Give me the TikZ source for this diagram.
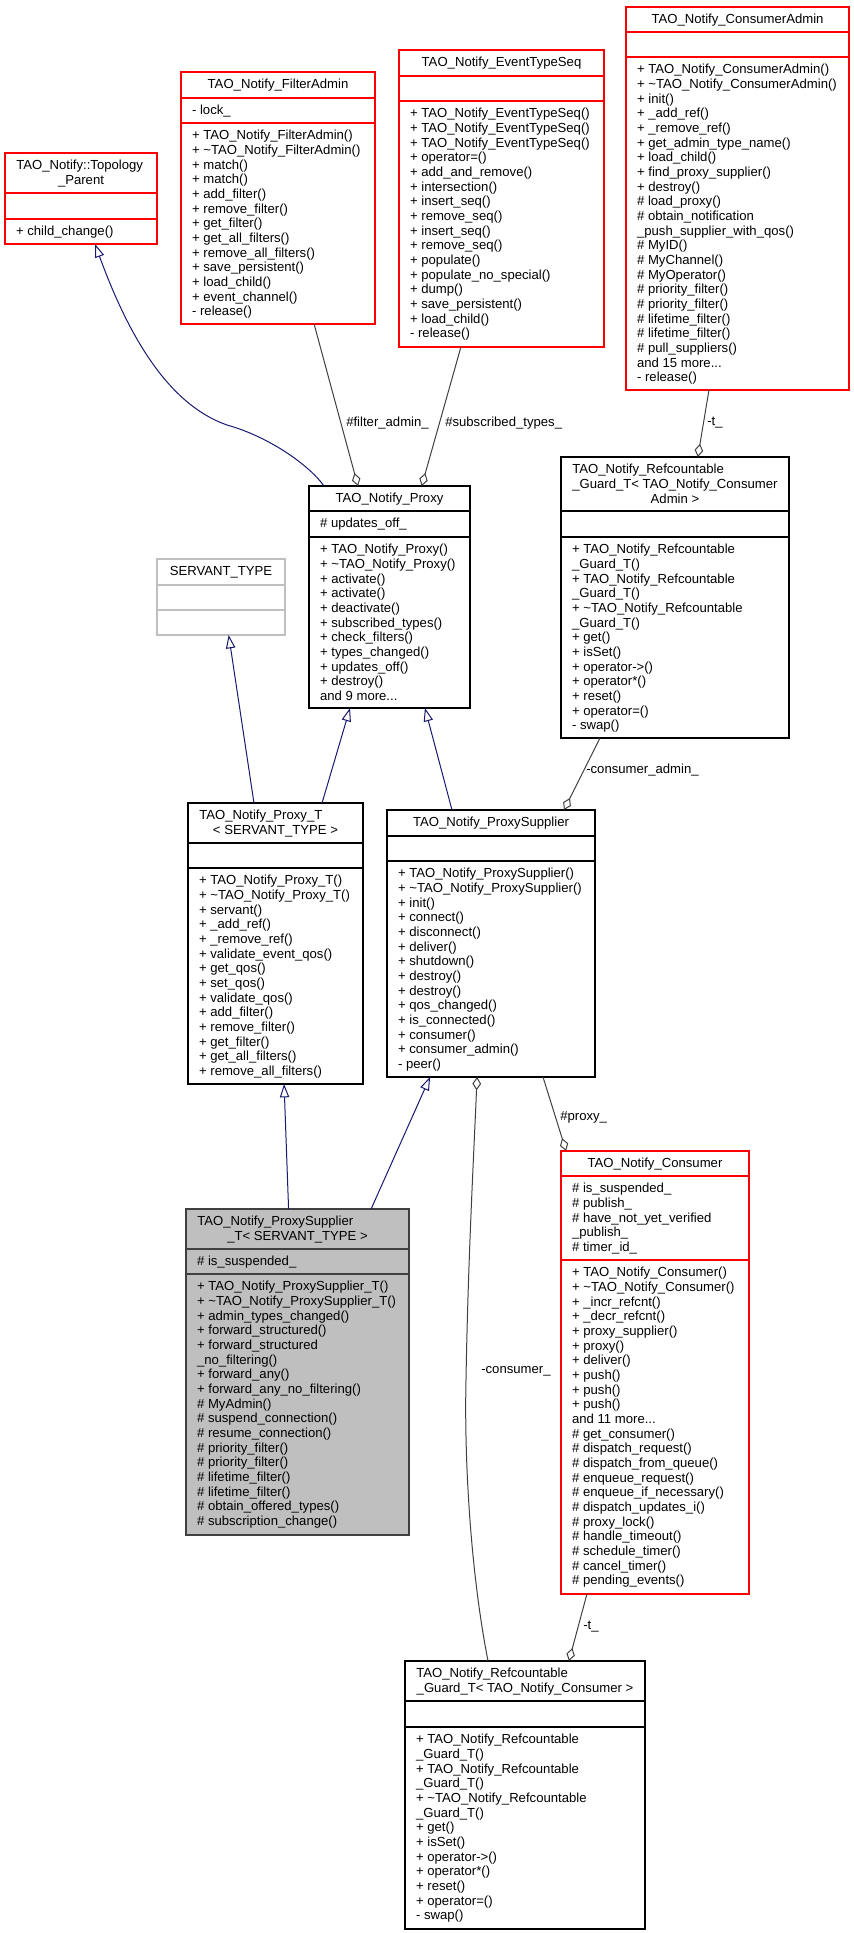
\documentclass[tikz,border=0pt]{standalone}
\usepackage{fontspec}
\setmainfont{Liberation Sans}
\usetikzlibrary{calc,fit,arrows.meta}
\definecolor{navy}{RGB}{25,25,112}
\definecolor{edgegray}{RGB}{64,64,64}
\newcommand\fs{\fontsize{9.85}{11}\selectfont}
\begin{document}
\begin{tikzpicture}[x=0.75pt,y=-0.75pt,
  box/.style={draw=black, line width=0.9pt, inner sep=0pt, outer sep=0pt},
  redbox/.style={box, draw=red},
  graybox/.style={box, draw=black!25},
  selbox/.style={box, draw=edgegray, fill=black!25},
  sepl/.style={line width=0.9pt},
  txt/.style={anchor=north west, inner sep=0pt, align=left, font=\fs},
  hdr/.style={anchor=north, inner sep=0pt, align=center, font=\fs},
  lbl/.style={anchor=west, inner sep=0pt, font=\fs},
  inh/.style={draw=navy, line width=0.75pt, -{Triangle[open,length=10pt,width=7pt]}},
  agg/.style={draw=edgegray, line width=0.75pt, -{Diamond[open,length=10pt,width=6.5pt]}},
]
\useasboundingbox (0,0) rectangle (853,1933);

% ---------- TAO_Notify::Topology_Parent ----------
\node[redbox, fit={(5,153) (157,244)}] (tp) {};
\draw[sepl, red] (5,193) -- (157,193);
\draw[sepl, red] (5,219) -- (157,219);
\node[txt] (tp-h1) at (16,159.2) {\strut TAO\_Notify::Topology};
\node[hdr] (tp-h2) at (81,173.9) {\strut \_Parent};
\node[txt] (tp-m) at (15.8,225.2) {\strut + child\_change()};

% ---------- TAO_Notify_FilterAdmin ----------
\node[redbox, fit={(181,72) (375,324)}] (fa) {};
\draw[sepl, red] (181,98) -- (375,98);
\draw[sepl, red] (181,123) -- (375,123);
\node[hdr] (fa-h) at (278,78.2) {\strut TAO\_Notify\_FilterAdmin};
\node[txt] (fa-a) at (191.8,104.2) {\strut - lock\_};
\node[txt] (fa-m) at (191.8,129.2) {\strut + TAO\_Notify\_FilterAdmin()\\
+ \textasciitilde TAO\_Notify\_FilterAdmin()\\
+ match()\\
+ match()\\
+ add\_filter()\\
+ remove\_filter()\\
+ get\_filter()\\
+ get\_all\_filters()\\
+ remove\_all\_filters()\\
+ save\_persistent()\\
+ load\_child()\\
+ event\_channel()\\
- release()};

% ---------- TAO_Notify_EventTypeSeq ----------
\node[redbox, fit={(399,50) (604,347)}] (ets) {};
\draw[sepl, red] (399,76) -- (604,76);
\draw[sepl, red] (399,101) -- (604,101);
\node[hdr] (ets-h) at (501.5,56.2) {\strut TAO\_Notify\_EventTypeSeq};
\node[txt] (ets-m) at (409.8,107.2) {\strut + TAO\_Notify\_EventTypeSeq()\\
+ TAO\_Notify\_EventTypeSeq()\\
+ TAO\_Notify\_EventTypeSeq()\\
+ operator=()\\
+ add\_and\_remove()\\
+ intersection()\\
+ insert\_seq()\\
+ remove\_seq()\\
+ insert\_seq()\\
+ remove\_seq()\\
+ populate()\\
+ populate\_no\_special()\\
+ dump()\\
+ save\_persistent()\\
+ load\_child()\\
- release()};

% ---------- TAO_Notify_ConsumerAdmin ----------
\node[redbox, fit={(626,7) (849,390)}] (ca) {};
\draw[sepl, red] (626,32) -- (849,32);
\draw[sepl, red] (626,57) -- (849,57);
\node[hdr] (ca-h) at (737.5,13.2) {\strut TAO\_Notify\_ConsumerAdmin};
\node[txt] (ca-m) at (636.8,63.2) {\strut + TAO\_Notify\_ConsumerAdmin()\\
+ \textasciitilde TAO\_Notify\_ConsumerAdmin()\\
+ init()\\
+ \_add\_ref()\\
+ \_remove\_ref()\\
+ get\_admin\_type\_name()\\
+ load\_child()\\
+ find\_proxy\_supplier()\\
+ destroy()\\
\# load\_proxy()\\
\# obtain\_notification\\
\_push\_supplier\_with\_qos()\\
\# MyID()\\
\# MyChannel()\\
\# MyOperator()\\
\# priority\_filter()\\
\# priority\_filter()\\
\# lifetime\_filter()\\
\# lifetime\_filter()\\
\# pull\_suppliers()\\
and 15 more...\\
- release()};

% ---------- TAO_Notify_Refcountable_Guard_T< TAO_Notify_ConsumerAdmin > ----------
\node[box, fit={(561,457) (789,738)}] (gca) {};
\draw[sepl] (561,511) -- (789,511);
\draw[sepl] (561,537) -- (789,537);
\node[txt] (gca-h1) at (572,463.2) {\strut TAO\_Notify\_Refcountable\\
\_Guard\_T< TAO\_Notify\_Consumer};
\node[hdr] (gca-h2) at (675,492.6) {\strut Admin >};
\node[txt] (gca-m) at (571.8,543.2) {\strut + TAO\_Notify\_Refcountable\\
\_Guard\_T()\\
+ TAO\_Notify\_Refcountable\\
\_Guard\_T()\\
+ \textasciitilde TAO\_Notify\_Refcountable\\
\_Guard\_T()\\
+ get()\\
+ isSet()\\
+ operator->()\\
+ operator*()\\
+ reset()\\
+ operator=()\\
- swap()};

% ---------- TAO_Notify_Proxy ----------
\node[box, fit={(309,486) (470,708)}] (px) {};
\draw[sepl] (309,511) -- (470,511);
\draw[sepl] (309,537) -- (470,537);
\node[hdr] (px-h) at (389.5,492.2) {\strut TAO\_Notify\_Proxy};
\node[txt] (px-a) at (319.8,517.2) {\strut \# updates\_off\_};
\node[txt] (px-m) at (319.8,543.2) {\strut + TAO\_Notify\_Proxy()\\
+ \textasciitilde TAO\_Notify\_Proxy()\\
+ activate()\\
+ activate()\\
+ deactivate()\\
+ subscribed\_types()\\
+ check\_filters()\\
+ types\_changed()\\
+ updates\_off()\\
+ destroy()\\
and 9 more...};

% ---------- SERVANT_TYPE ----------
\node[graybox, fit={(157,559) (285,635)}] (st) {};
\draw[sepl, black!25] (157,585) -- (285,585);
\draw[sepl, black!25] (157,610) -- (285,610);
\node[hdr] (st-h) at (221,565.2) {\strut SERVANT\_TYPE};

% ---------- TAO_Notify_Proxy_T ----------
\node[box, fit={(188,803) (363,1084)}] (pt) {};
\draw[sepl] (188,843) -- (363,843);
\draw[sepl] (188,868) -- (363,868);
\node[txt] (pt-h1) at (199,809.2) {\strut TAO\_Notify\_Proxy\_T};
\node[hdr] (pt-h2) at (275.5,823.9) {\strut < SERVANT\_TYPE >};
\node[txt] (pt-m) at (198.8,874.2) {\strut + TAO\_Notify\_Proxy\_T()\\
+ \textasciitilde TAO\_Notify\_Proxy\_T()\\
+ servant()\\
+ \_add\_ref()\\
+ \_remove\_ref()\\
+ validate\_event\_qos()\\
+ get\_qos()\\
+ set\_qos()\\
+ validate\_qos()\\
+ add\_filter()\\
+ remove\_filter()\\
+ get\_filter()\\
+ get\_all\_filters()\\
+ remove\_all\_filters()};

% ---------- TAO_Notify_ProxySupplier ----------
\node[box, fit={(387,810) (595,1077)}] (ps) {};
\draw[sepl] (387,836) -- (595,836);
\draw[sepl] (387,861) -- (595,861);
\node[hdr] (ps-h) at (491,816.2) {\strut TAO\_Notify\_ProxySupplier};
\node[txt] (ps-m) at (397.8,867.2) {\strut + TAO\_Notify\_ProxySupplier()\\
+ \textasciitilde TAO\_Notify\_ProxySupplier()\\
+ init()\\
+ connect()\\
+ disconnect()\\
+ deliver()\\
+ shutdown()\\
+ destroy()\\
+ destroy()\\
+ qos\_changed()\\
+ is\_connected()\\
+ consumer()\\
+ consumer\_admin()\\
- peer()};

% ---------- TAO_Notify_ProxySupplier_T< SERVANT_TYPE > ----------
\node[selbox, fit={(186,1209) (409,1535)}] (pst) {};
\draw[sepl, edgegray] (186,1249) -- (409,1249);
\draw[sepl, edgegray] (186,1274) -- (409,1274);
\node[txt] (pst-h1) at (197,1215.2) {\strut TAO\_Notify\_ProxySupplier};
\node[hdr] (pst-h2) at (297.5,1229.9) {\strut \_T< SERVANT\_TYPE >};
\node[txt] (pst-a) at (196.8,1255.2) {\strut \# is\_suspended\_};
\node[txt] (pst-m) at (196.8,1280.2) {\strut + TAO\_Notify\_ProxySupplier\_T()\\
+ \textasciitilde TAO\_Notify\_ProxySupplier\_T()\\
+ admin\_types\_changed()\\
+ forward\_structured()\\
+ forward\_structured\\
\_no\_filtering()\\
+ forward\_any()\\
+ forward\_any\_no\_filtering()\\
\# MyAdmin()\\
\# suspend\_connection()\\
\# resume\_connection()\\
\# priority\_filter()\\
\# priority\_filter()\\
\# lifetime\_filter()\\
\# lifetime\_filter()\\
\# obtain\_offered\_types()\\
\# subscription\_change()};

% ---------- TAO_Notify_Consumer ----------
\node[redbox, fit={(561,1151) (749,1594)}] (co) {};
\draw[sepl, red] (561,1176) -- (749,1176);
\draw[sepl, red] (561,1260) -- (749,1260);
\node[hdr] (co-h) at (655,1157.2) {\strut TAO\_Notify\_Consumer};
\node[txt] (co-a) at (571.8,1182.2) {\strut \# is\_suspended\_\\
\# publish\_\\
\# have\_not\_yet\_verified\\
\_publish\_\\
\# timer\_id\_};
\node[txt] (co-m) at (571.8,1266.2) {\strut + TAO\_Notify\_Consumer()\\
+ \textasciitilde TAO\_Notify\_Consumer()\\
+ \_incr\_refcnt()\\
+ \_decr\_refcnt()\\
+ proxy\_supplier()\\
+ proxy()\\
+ deliver()\\
+ push()\\
+ push()\\
+ push()\\
and 11 more...\\
\# get\_consumer()\\
\# dispatch\_request()\\
\# dispatch\_from\_queue()\\
\# enqueue\_request()\\
\# enqueue\_if\_necessary()\\
\# dispatch\_updates\_i()\\
\# proxy\_lock()\\
\# handle\_timeout()\\
\# schedule\_timer()\\
\# cancel\_timer()\\
\# pending\_events()};

% ---------- TAO_Notify_Refcountable_Guard_T< TAO_Notify_Consumer > ----------
\node[box, fit={(405,1661) (645,1929)}] (gco) {};
\draw[sepl] (405,1701) -- (645,1701);
\draw[sepl] (405,1727) -- (645,1727);
\node[txt] (gco-h1) at (416,1667.2) {\strut TAO\_Notify\_Refcountable};
\node[hdr] (gco-h2) at (525,1681.9) {\strut \_Guard\_T< TAO\_Notify\_Consumer >};
\node[txt] (gco-m) at (415.8,1733.2) {\strut + TAO\_Notify\_Refcountable\\
\_Guard\_T()\\
+ TAO\_Notify\_Refcountable\\
\_Guard\_T()\\
+ \textasciitilde TAO\_Notify\_Refcountable\\
\_Guard\_T()\\
+ get()\\
+ isSet()\\
+ operator->()\\
+ operator*()\\
+ reset()\\
+ operator=()\\
- swap()};

% ---------- inheritance edges ----------
\draw[inh] ($(px.north west)!0.093!(px.north east)$) .. controls (310,466) and (270,437) .. (227,425)
  .. controls (170,405) and (130,340) .. ($(tp.south west)!0.592!(tp.south east)$);
\draw[inh] ($(pt.north west)!0.377!(pt.north east)$) -- ($(st.south west)!0.56!(st.south east)$);
\draw[inh] ($(pt.north west)!0.766!(pt.north east)$) -- ($(px.south west)!0.255!(px.south east)$);
\draw[inh] ($(ps.north west)!0.3125!(ps.north east)$) -- ($(px.south west)!0.72!(px.south east)$);
\draw[inh] ($(pst.north west)!0.46!(pst.north east)$) -- ($(pt.south west)!0.549!(pt.south east)$);
\draw[inh] ($(pst.north west)!0.83!(pst.north east)$) -- ($(ps.south west)!0.207!(ps.south east)$);

% ---------- aggregation edges ----------
\draw[agg] ($(fa.south west)!0.686!(fa.south east)$) -- ($(px.north west)!0.304!(px.north east)$);
\draw[agg] ($(ets.south west)!0.302!(ets.south east)$) -- ($(px.north west)!0.70!(px.north east)$);
\draw[agg] ($(ca.south west)!0.372!(ca.south east)$) -- ($(gca.north west)!0.60!(gca.north east)$);
\draw[agg] ($(gca.south west)!0.171!(gca.south east)$) -- ($(ps.north west)!0.851!(ps.north east)$);
\draw[agg] ($(ps.south west)!0.75!(ps.south east)$) -- ($(co.north west)!0.027!(co.north east)$);
\draw[agg] ($(co.south west)!0.138!(co.south east)$) -- ($(gco.north west)!0.683!(gco.north east)$);
\draw[agg] ($(gco.north west)!0.346!(gco.north east)$) .. controls (472,1580) and (464,1470) .. (466,1380)
  .. controls (468,1260) and (474,1150) .. ($(ps.south west)!0.433!(ps.south east)$);

% ---------- edge labels ----------
\node[lbl] (l-fa) at (346,423) {\#filter\_admin\_};
\node[lbl] (l-st) at (445,423) {\#subscribed\_types\_};
\node[lbl] (l-t1) at (707,423) {-t\_};
\node[lbl] (l-ca) at (586,770) {-consumer\_admin\_};
\node[lbl] (l-px) at (560,1117) {\#proxy\_};
\node[lbl] (l-co) at (481,1371) {-consumer\_};
\node[lbl] (l-t2) at (583,1627) {-t\_};
\end{tikzpicture}
\end{document}
